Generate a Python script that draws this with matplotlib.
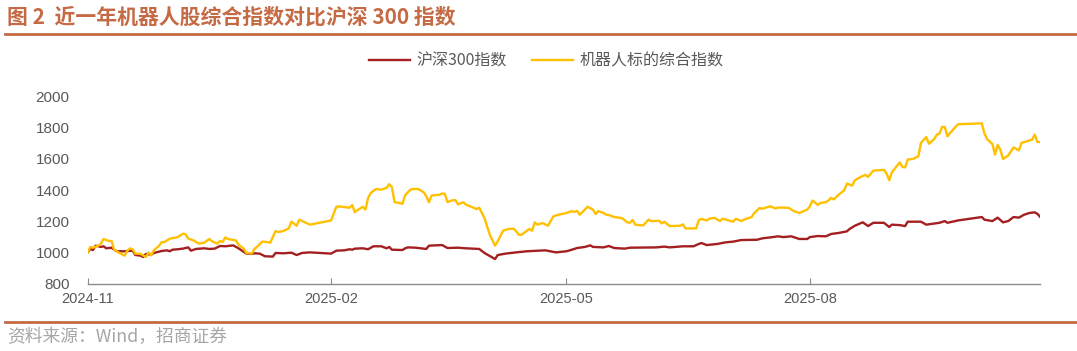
import matplotlib
matplotlib.use("Agg")
import matplotlib.pyplot as plt
import matplotlib.dates as mdates
import pandas as pd
from matplotlib.lines import Line2D

plt.rcParams['font.family'] = ['Liberation Sans', 'Noto Sans CJK SC', 'DejaVu Sans']

# ---------------- data ----------------
hs300_dates = ['2024-11-04','2024-11-05','2024-11-06','2024-11-07','2024-11-09','2024-11-10','2024-11-11',
    '2024-11-13','2024-11-14','2024-11-15','2024-11-18','2024-11-21','2024-11-22','2024-11-24','2024-11-25',
    '2024-11-26','2024-11-28','2024-11-29','2024-12-02','2024-12-04','2024-12-05','2024-12-06','2024-12-08',
    '2024-12-10','2024-12-12','2024-12-13','2024-12-15','2024-12-18','2024-12-20','2024-12-22','2024-12-24',
    '2024-12-26','2024-12-29','2024-12-31','2025-01-03','2025-01-05','2025-01-06','2025-01-08','2025-01-10',
    '2025-01-13','2025-01-14','2025-01-17','2025-01-20','2025-01-22','2025-01-24','2025-01-27','2025-02-04',
    '2025-02-06','2025-02-09','2025-02-11','2025-02-12','2025-02-13','2025-02-16','2025-02-18','2025-02-20',
    '2025-02-23','2025-02-25','2025-02-26','2025-02-27','2025-03-03','2025-03-04','2025-03-05','2025-03-08',
    '2025-03-10','2025-03-12','2025-03-13','2025-03-18','2025-03-20','2025-03-24','2025-03-27','2025-04-01',
    '2025-04-03','2025-04-07','2025-04-08','2025-04-11','2025-04-15','2025-04-19','2025-04-26','2025-04-30',
    '2025-05-04','2025-05-06','2025-05-08','2025-05-11','2025-05-13','2025-05-14','2025-05-18','2025-05-20',
    '2025-05-22','2025-05-26','2025-05-28','2025-06-07','2025-06-10','2025-06-12','2025-06-17','2025-06-21',
    '2025-06-23','2025-06-24','2025-06-26','2025-06-30','2025-07-03','2025-07-06','2025-07-09','2025-07-15',
    '2025-07-17','2025-07-20','2025-07-23','2025-07-25','2025-07-28','2025-07-31','2025-08-03','2025-08-04',
    '2025-08-07','2025-08-10','2025-08-12','2025-08-15','2025-08-18','2025-08-19','2025-08-21','2025-08-24',
    '2025-08-26','2025-08-28','2025-09-01','2025-09-03','2025-09-04','2025-09-07','2025-09-09','2025-09-10',
    '2025-09-15','2025-09-17','2025-09-22','2025-09-24','2025-09-25','2025-09-29','2025-10-08','2025-10-09',
    '2025-10-12','2025-10-14','2025-10-16','2025-10-18','2025-10-20','2025-10-22','2025-10-24','2025-10-26',
    '2025-10-28','2025-10-29','2025-10-30']
hs300 = [1000,1022,1015,1043,1035,1039,1026,
    1030,1017,1007,1007,1011,983,979,970,
    990,985,996,1009,1013,1007,1017,1020,
    1024,1032,1011,1022,1026,1022,1024,1041,
    1039,1045,1026,992,990,994,992,975,
    973,996,994,998,983,996,1000,992,
    1011,1013,1020,1017,1024,1026,1020,1039,
    1039,1026,1035,1017,1015,1026,1032,1030,
    1026,1022,1043,1047,1028,1030,1026,1022,
    996,957,983,992,1000,1007,1013,1000,
    1007,1017,1028,1035,1045,1035,1032,1041,
    1028,1024,1030,1032,1037,1032,1039,1039,
    1054,1060,1047,1054,1064,1069,1079,1081,
    1090,1096,1103,1098,1103,1086,1086,1098,
    1105,1103,1118,1125,1135,1150,1171,1193,
    1169,1190,1190,1163,1178,1175,1169,1197,
    1197,1178,1190,1201,1190,1205,1227,1210,
    1201,1223,1193,1201,1227,1223,1242,1253,
    1257,1248,1229]

robot_dates = ['2024-11-04','2024-11-05','2024-11-06','2024-11-08','2024-11-09','2024-11-10','2024-11-12',
    '2024-11-13','2024-11-14','2024-11-16','2024-11-18','2024-11-19','2024-11-20','2024-11-21','2024-11-22',
    '2024-11-24','2024-11-26','2024-11-27','2024-11-28','2024-11-29','2024-12-01','2024-12-02','2024-12-03',
    '2024-12-05','2024-12-07','2024-12-08','2024-12-10','2024-12-11','2024-12-12','2024-12-14','2024-12-16',
    '2024-12-18','2024-12-20','2024-12-21','2024-12-23','2024-12-24','2024-12-25','2024-12-26','2024-12-27',
    '2024-12-30','2024-12-31','2025-01-02','2025-01-03','2025-01-05','2025-01-06','2025-01-07','2025-01-09',
    '2025-01-11','2025-01-12','2025-01-14','2025-01-15','2025-01-17','2025-01-19','2025-01-20','2025-01-22',
    '2025-01-23','2025-01-27','2025-02-04','2025-02-06','2025-02-07','2025-02-11','2025-02-12','2025-02-13',
    '2025-02-14','2025-02-16','2025-02-17','2025-02-18','2025-02-19','2025-02-21','2025-02-23','2025-02-25',
    '2025-02-26','2025-02-27','2025-02-28','2025-03-01','2025-03-03','2025-03-04','2025-03-06','2025-03-07',
    '2025-03-09','2025-03-11','2025-03-12','2025-03-13','2025-03-14','2025-03-15','2025-03-17','2025-03-18',
    '2025-03-19','2025-03-20','2025-03-22','2025-03-23','2025-03-24','2025-03-26','2025-03-27','2025-03-29',
    '2025-03-31','2025-04-01','2025-04-03','2025-04-05','2025-04-07','2025-04-08','2025-04-10','2025-04-12',
    '2025-04-14','2025-04-15','2025-04-16','2025-04-17','2025-04-19','2025-04-20','2025-04-21','2025-04-22',
    '2025-04-23','2025-04-25','2025-04-27','2025-04-29','2025-05-01','2025-05-04','2025-05-06','2025-05-07',
    '2025-05-08','2025-05-09','2025-05-12','2025-05-14','2025-05-15','2025-05-16','2025-05-18','2025-05-19',
    '2025-05-20','2025-05-22','2025-05-25','2025-05-27','2025-05-28','2025-05-29','2025-05-30','2025-06-02',
    '2025-06-04','2025-06-05','2025-06-08','2025-06-09','2025-06-10','2025-06-12','2025-06-16','2025-06-17',
    '2025-06-18','2025-06-22','2025-06-23','2025-06-24','2025-06-26','2025-06-27','2025-06-29','2025-07-01',
    '2025-07-02','2025-07-04','2025-07-06','2025-07-07','2025-07-08','2025-07-09','2025-07-11','2025-07-13',
    '2025-07-14','2025-07-16','2025-07-17','2025-07-20','2025-07-22','2025-07-23','2025-07-27','2025-07-29',
    '2025-07-31','2025-08-03','2025-08-04','2025-08-05','2025-08-07','2025-08-08','2025-08-10','2025-08-11',
    '2025-08-12','2025-08-13','2025-08-15','2025-08-17','2025-08-18','2025-08-20','2025-08-21','2025-08-23',
    '2025-08-25','2025-08-26','2025-08-28','2025-09-01','2025-09-02','2025-09-03','2025-09-04','2025-09-07',
    '2025-09-08','2025-09-09','2025-09-10','2025-09-12','2025-09-14','2025-09-15','2025-09-17','2025-09-18',
    '2025-09-20','2025-09-21','2025-09-22','2025-09-23','2025-09-24','2025-09-25','2025-09-26','2025-09-29',
    '2025-10-08','2025-10-09','2025-10-10','2025-10-12','2025-10-13','2025-10-14','2025-10-15','2025-10-16',
    '2025-10-18','2025-10-20','2025-10-22','2025-10-23','2025-10-27','2025-10-28','2025-10-29','2025-10-30']
robot = [1000,1035,1030,1043,1056,1086,1073,
    1073,1017,996,979,1011,1026,1020,992,
    990,970,1000,981,1013,1043,1066,1066,
    1088,1094,1098,1120,1116,1088,1077,1056,
    1062,1086,1071,1056,1073,1066,1096,1086,
    1077,1049,1024,996,992,1022,1035,1069,
    1066,1062,1137,1131,1137,1154,1197,1171,
    1210,1178,1205,1293,1295,1287,1304,1258,
    1271,1293,1275,1350,1382,1407,1403,1415,
    1438,1419,1323,1320,1312,1367,1403,1407,
    1407,1386,1360,1322,1365,1367,1370,1378,
    1376,1323,1335,1335,1308,1322,1306,1293,
    1278,1287,1220,1113,1043,1071,1139,1150,
    1152,1135,1113,1113,1139,1150,1139,1193,
    1178,1188,1171,1231,1242,1253,1265,1260,
    1267,1242,1293,1275,1246,1265,1253,1242,
    1240,1227,1220,1193,1190,1208,1178,1173,
    1210,1201,1203,1186,1197,1169,1171,1180,
    1154,1154,1207,1215,1205,1216,1222,1201,
    1216,1207,1197,1215,1210,1201,1216,1227,
    1253,1285,1280,1296,1282,1288,1286,1265,
    1253,1275,1296,1333,1305,1318,1322,1333,
    1350,1340,1372,1399,1442,1429,1463,1483,
    1498,1485,1525,1530,1506,1463,1514,1578,
    1549,1546,1596,1600,1617,1703,1741,1698,
    1728,1756,1763,1806,1806,1745,1767,1823,
    1829,1763,1728,1696,1628,1690,1660,1600,
    1622,1675,1655,1703,1724,1756,1709,1709]

series_labels = ['沪深300指数', '机器人标的综合指数']
y_ticks = [800, 1000, 1200, 1400, 1600, 1800, 2000]
x_tick_dates = ['2024-11-04', '2025-02-04', '2025-05-04', '2025-08-04']

title_text = '图 2  近一年机器人股综合指数对比沪深 300 指数'
source_text = '资料来源：Wind，招商证券'

# ---------------- styling ----------------
RED = '#A31F21'
YELLOW = '#FFC000'
ACCENT = '#C46A45'
TEXT_GRAY = '#595959'
AXIS_GRAY = '#8C8C8C'
CJK = ['Noto Sans CJK SC', 'DejaVu Sans']

fig = plt.figure(figsize=(10.77, 3.51), dpi=100)
ax = fig.add_axes([87.7/1077, 1 - 283.5/351, (1040 - 87.7)/1077, (283.5 - 96.7)/351])

hd = pd.to_datetime(hs300_dates)
rd = pd.to_datetime(robot_dates)
ax.plot(hd, hs300, color=RED, lw=1.7, zorder=3, solid_joinstyle='round')
ax.plot(rd, robot, color=YELLOW, lw=1.7, zorder=4, solid_joinstyle='round')

ax.set_ylim(800, 2000)
ax.set_yticks(y_ticks)
ax.set_xlim(pd.Timestamp(robot_dates[0]), pd.Timestamp(robot_dates[-1]))
ax.set_xticks(pd.to_datetime(x_tick_dates))
ax.xaxis.set_major_formatter(mdates.DateFormatter('%Y-%m'))

for s in ['top', 'right', 'left']:
    ax.spines[s].set_visible(False)
ax.spines['bottom'].set_color(AXIS_GRAY)
ax.spines['bottom'].set_linewidth(1.0)

ax.tick_params(axis='y', length=0, pad=13, labelsize=11, labelcolor=TEXT_GRAY)
ax.tick_params(axis='x', direction='in', length=4, width=0.8, color=AXIS_GRAY,
               pad=6, labelsize=10.5, labelcolor=TEXT_GRAY)
ax.set_facecolor('none')

# legend
handles = [Line2D([], [], color=RED, lw=1.7), Line2D([], [], color=YELLOW, lw=1.7)]
leg = fig.legend(handles, series_labels, loc='center', bbox_to_anchor=(546/1077, 1 - 61/351),
                 ncol=2, frameon=False, handlelength=2.6, handletextpad=0.35, columnspacing=1.6,
                 prop={'family': CJK, 'size': 11.5})
for t in leg.get_texts():
    t.set_color(TEXT_GRAY)

# title and rules
fig.text(7/1077, 1 - 17/351, title_text, ha='left', va='center', fontsize=15,
         fontweight='bold', color=ACCENT, family=CJK)
fig.add_artist(Line2D([5/1077, 1.0], [1 - 33.5/351, 1 - 33.5/351], color=ACCENT, lw=2.0))
fig.add_artist(Line2D([5/1077, 1.0], [1 - 322/351, 1 - 322/351], color=ACCENT, lw=2.0))
fig.text(7/1077, 1 - 337/351, source_text, ha='left', va='center', fontsize=12.8,
         color='#A6A6A6', family=CJK)

fig.savefig('out.png', dpi=100)
